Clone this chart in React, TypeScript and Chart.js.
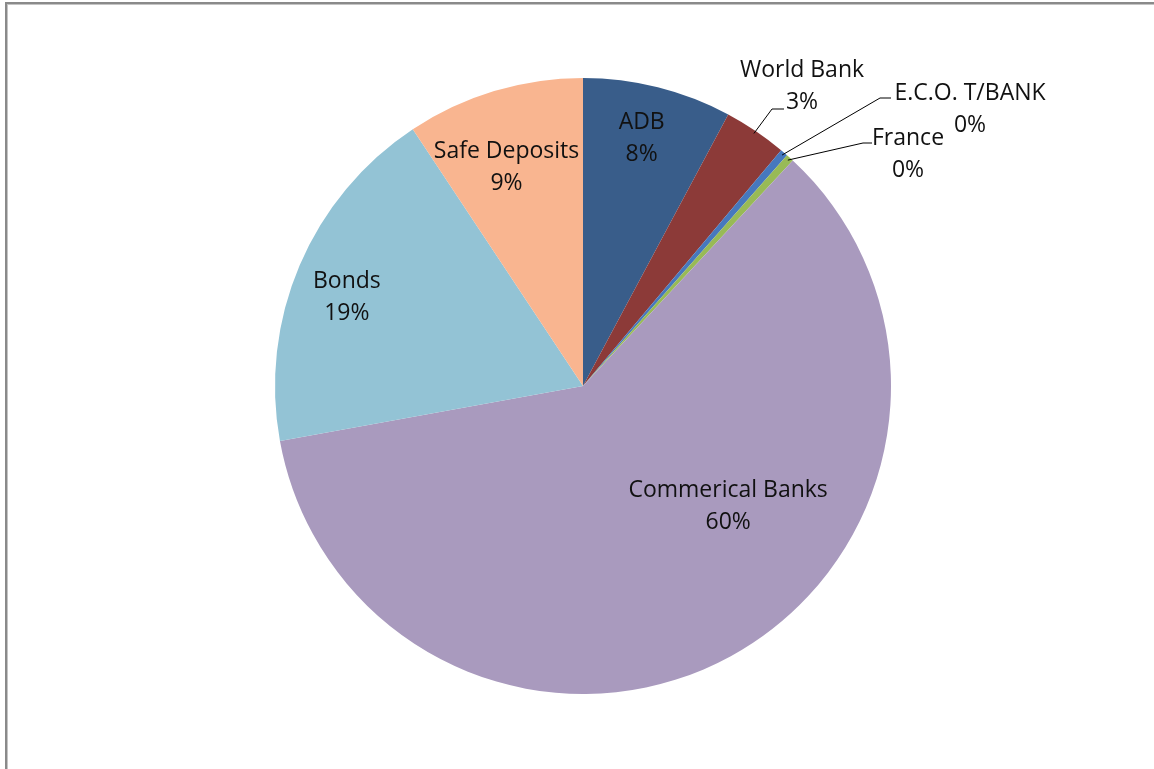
import React, { useEffect, useRef } from "react";
import { Chart, registerables } from "chart.js";

Chart.register(...registerables);

const categories = ["ADB", "World Bank", "E.C.O. T/BANK", "France", "Commerical Banks", "Bonds", "Safe Deposits"];
const shares = [7.8, 3.3, 0.4, 0.4, 60.1, 18.5, 9.3];
const sliceColors = ["#395D8A", "#8C3A38", "#4678BE", "#98BA56", "#A99ABE", "#93C3D5", "#F9B590"];

// label placement (style only): inside = polar offset from slice mid angle; outside = leader line + text block
type Place =
  | { kind: "in"; dAngle: number; frac: number }
  | { kind: "out"; startFrac: number; elbow: [number, number]; endX: number; text: [number, number] };
const placement: Place[] = [
  { kind: "in", dAngle: -0.8, frac: 0.83 },
  { kind: "out", startFrac: 0.99, elbow: [189, -277], endX: 201, text: [219, -316] },
  { kind: "out", startFrac: 0.99, elbow: [297, -288], endX: 308, text: [387, -293] },
  { kind: "out", startFrac: 0.99, elbow: [280, -243], endX: 289, text: [325, -248] },
  { kind: "in", dAngle: -21.9, frac: 0.61 },
  { kind: "in", dAngle: -2.3, frac: 0.82 },
  { kind: "in", dAngle: -2.4, frac: 0.756 },
];

const FONT = "23px 'Open Sans', Lato, sans-serif";
const LINE_H = 32;

const labelPlugin = {
  id: "excelLabels",
  afterDatasetsDraw(chart: any) {
    const { ctx } = chart;
    const meta = chart.getDatasetMeta(0);
    const data = chart.data.datasets[0].data as number[];
    const total = data.reduce((a, b) => a + b, 0);
    ctx.save();
    ctx.font = FONT;
    ctx.fillStyle = "#111";
    ctx.textAlign = "center";
    ctx.textBaseline = "middle";
    meta.data.forEach((arc: any, i: number) => {
      const p = placement[i];
      const { x: cx, y: cy, startAngle, endAngle, outerRadius } = arc.getProps(["x", "y", "startAngle", "endAngle", "outerRadius"], true);
      const mid = (startAngle + endAngle) / 2;
      const pct = Math.round((data[i] / total) * 100) + "%";
      const name = chart.data.labels[i];
      if (p.kind === "in") {
        const a = mid + (p.dAngle * Math.PI) / 180;
        const r = outerRadius * p.frac;
        const x = cx + Math.cos(a) * r;
        const y = cy + Math.sin(a) * r + 1;
        ctx.fillText(name, x, y - LINE_H / 2);
        ctx.fillText(pct, x, y + LINE_H / 2);
      } else {
        const sx = cx + Math.cos(mid) * outerRadius * p.startFrac;
        const sy = cy + Math.sin(mid) * outerRadius * p.startFrac;
        const ex = cx + p.elbow[0];
        const ey = cy + p.elbow[1];
        ctx.strokeStyle = "#000";
        ctx.lineWidth = 1;
        ctx.beginPath();
        ctx.moveTo(sx, sy);
        ctx.lineTo(ex, ey);
        ctx.lineTo(cx + p.endX, ey);
        ctx.stroke();
        const tx = cx + p.text[0];
        const ty = cy + p.text[1];
        ctx.fillText(name, tx, ty);
        ctx.fillText(pct, tx, ty + LINE_H);
      }
    });
    ctx.restore();
  },
};

export default function App() {
  const ref = useRef<HTMLCanvasElement>(null);
  useEffect(() => {
    if (!ref.current) return;
    const chart = new Chart(ref.current, {
      type: "pie",
      data: {
        labels: categories,
        datasets: [
          {
            data: shares,
            backgroundColor: sliceColors,
            borderWidth: 0,
          },
        ],
      },
      options: {
        responsive: false,
        animation: false,
        layout: { padding: { left: 275, right: 263, top: 78, bottom: 75 } },
        plugins: {
          legend: { display: false },
          tooltip: { enabled: false },
        },
      },
      plugins: [labelPlugin],
    });
    return () => chart.destroy();
  }, []);
  return (
    <div style={{ position: "fixed", left: 0, top: 0, width: 1154, height: 769, background: "#fff", overflow: "hidden" }}>
      <canvas ref={ref} width={1154} height={769} style={{ position: "absolute", left: 0, top: 0 }} />
      <div
        style={{
          position: "absolute",
          left: 5,
          top: 2,
          width: 1200,
          height: 800,
          borderLeft: "2px solid #8a8a8a",
          borderTop: "2px solid #8a8a8a",
          boxShadow: "inset 1px 1px 0 #c4c4c4",
          pointerEvents: "none",
        }}
      />
    </div>
  );
}
